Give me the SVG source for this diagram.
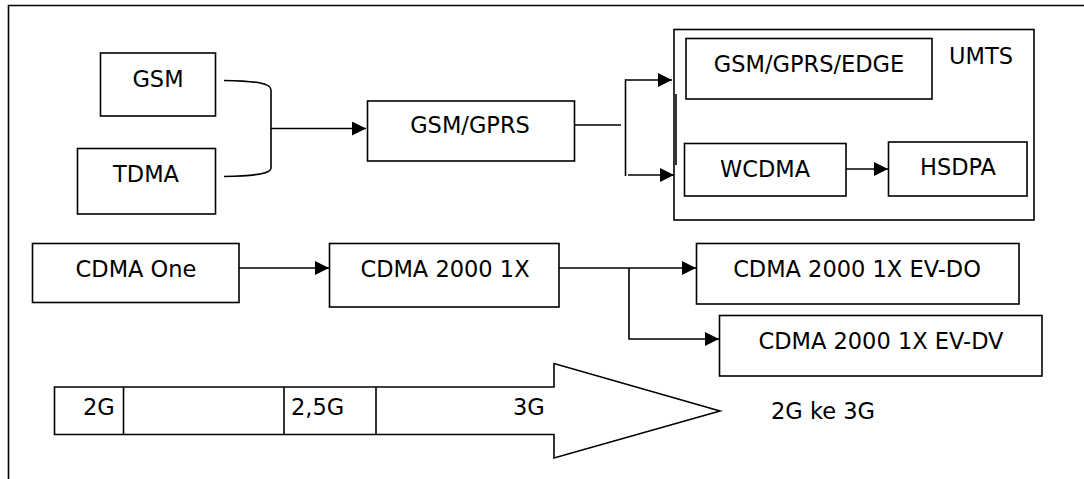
<svg xmlns="http://www.w3.org/2000/svg" width="1084" height="479" viewBox="0 0 1084 479">
<style>
.box{fill:#fff;stroke:#000;stroke-width:1.6}
.ln{fill:none;stroke:#000;stroke-width:1.6}
text{font-family:"DejaVu Sans","Verdana",sans-serif;font-size:22.5px;fill:#000}
.c{text-anchor:middle}
</style>
<defs>
<marker id="ah" viewBox="0 0 10 10" refX="10" refY="5" markerWidth="14" markerHeight="14" markerUnits="userSpaceOnUse" orient="auto">
<path d="M0,0 L10,5 L0,10 z" fill="#000"/>
</marker>
</defs>
<rect width="1084" height="479" fill="#fff"/>
<g id="frame">
<path class="ln" d="M8.5,479 V5.5 H1084" stroke="#222"/>
</g>
<g id="umts">
<rect class="box" x="674" y="29.5" width="360" height="190.5"/>
<line class="ln" x1="676" y1="94" x2="676" y2="165" stroke-width="2"/>
<text x="949" y="64">UMTS</text>
</g>
<g id="gsm"><rect class="box" x="100.5" y="53" width="115" height="63"/><text class="c" x="158" y="87">GSM</text></g>
<g id="tdma"><rect class="box" x="77.5" y="148.5" width="138" height="65.5"/><text class="c" x="146" y="182">TDMA</text></g>
<g id="gsmgprs"><rect class="box" x="367.5" y="101" width="207" height="60"/><text class="c" x="470" y="133">GSM/GPRS</text></g>
<g id="edge"><rect class="box" x="686" y="38.5" width="246" height="60.5"/><text class="c" x="809" y="72">GSM/GPRS/EDGE</text></g>
<g id="wcdma"><rect class="box" x="684.5" y="143.5" width="161.5" height="52.5"/><text class="c" x="765" y="177">WCDMA</text></g>
<g id="hsdpa"><rect class="box" x="888.5" y="142" width="138.5" height="54"/><text class="c" x="958" y="175">HSDPA</text></g>
<g id="cdmaone"><rect class="box" x="32.5" y="243.5" width="206.5" height="59"/><text class="c" x="136" y="277">CDMA One</text></g>
<g id="cdma2000"><rect class="box" x="329.5" y="243.5" width="229.5" height="63.5"/><text class="c" x="445" y="277">CDMA 2000 1X</text></g>
<g id="evdo"><rect class="box" x="696.5" y="243.5" width="322.5" height="60.5"/><text class="c" x="857" y="277">CDMA 2000 1X EV-DO</text></g>
<g id="evdv"><rect class="box" x="719.5" y="315.5" width="322.5" height="60.5"/><text class="c" x="881" y="349">CDMA 2000 1X EV-DV</text></g>
<g id="timeline">
<path class="box" d="M54.5,387 H554 V363.5 L720,411 L554,458 V434.5 H54.5 Z"/>
<line class="ln" x1="123.5" y1="387" x2="123.5" y2="434.5"/>
<line class="ln" x1="284" y1="387" x2="284" y2="434.5"/>
<line class="ln" x1="376" y1="387" x2="376" y2="434.5"/>
<text x="83" y="415">2G</text>
<text x="291" y="415">2,5G</text>
<text x="513" y="415">3G</text>
</g>
<g id="label"><text x="771" y="419">2G ke 3G</text></g>
<g id="connectors">
<path class="ln" d="M224,80.5 C255,81 271,83 271,90 V168 C271,174 255,176 224,176.5"/>
<line class="ln" x1="271" y1="128.5" x2="366" y2="128.5" marker-end="url(#ah)"/>
<line class="ln" x1="574" y1="125" x2="621" y2="125"/>
<line class="ln" x1="625.5" y1="79.5" x2="625.5" y2="176"/>
<line class="ln" x1="625" y1="80" x2="672" y2="80" marker-end="url(#ah)"/>
<line class="ln" x1="628" y1="175" x2="674" y2="175" marker-end="url(#ah)"/>
<line class="ln" x1="846" y1="169" x2="888" y2="169" marker-end="url(#ah)"/>
<line class="ln" x1="239" y1="268" x2="329" y2="268" marker-end="url(#ah)"/>
<line class="ln" x1="559" y1="268" x2="696" y2="268" marker-end="url(#ah)"/>
<path class="ln" d="M629,268 V339 H719" marker-end="url(#ah)"/>
</g>
</svg>
